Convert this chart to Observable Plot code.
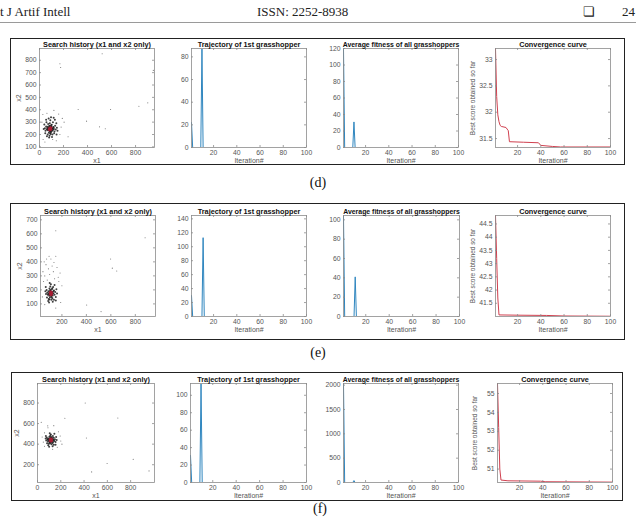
<!DOCTYPE html>
<html><head><meta charset="utf-8">
<script src="https://cdn.jsdelivr.net/npm/d3@7"></script>
<script src="https://cdn.jsdelivr.net/npm/@observablehq/plot@0.6"></script>
<style>
html,body{margin:0;padding:0;background:#fff;}
#page{position:relative;width:636px;height:517px;overflow:hidden;background:#fff;font-family:"Liberation Serif","Times New Roman",serif;}
.hdr{position:absolute;font-size:13px;line-height:13px;color:#222;top:5px;white-space:nowrap;}
.rule{position:absolute;left:0;width:636px;top:22px;height:0;border-top:1.5px solid #9a9a9a;}
.box{position:absolute;border:1.5px solid #222;box-sizing:border-box;}
.cap{position:absolute;font-size:14px;line-height:14px;color:#111;transform:translateX(-50%);}
</style></head><body>
<div id="page">
  <div class="hdr" style="left:0px">t J Artif Intell</div>
  <div class="hdr" style="left:257px">ISSN: 2252-8938</div>
  <div class="hdr" style="left:583px">&#x274F;</div>
  <div class="hdr" style="left:622px">24</div>
  <div class="rule"></div>
  <div class="box" style="left:10px;top:38px;width:615px;height:127px"></div>
  <div class="box" style="left:10px;top:203px;width:615px;height:137px"></div>
  <div class="box" style="left:11px;top:372px;width:612px;height:129px"></div>
  <div class="cap" style="left:318px;top:176px">(d)</div>
  <div class="cap" style="left:318px;top:346px">(e)</div>
  <div class="cap" style="left:320px;top:502px">(f)</div>
</div>
<script>
// ---------- shared ----------
const iterTicks = [20, 40, 60, 80, 100];
const titles = ["Search history (x1 and x2 only)", "Trajectory of 1st grasshopper", "Average fitness of all grasshoppers", "Convergence curve"];
const iterLabel = "Iteration#";
const convLabel = "Best score obtained so far";

// ---------- row (d) ----------
const histDCluster = [[90,245],[85,250],[95,240],[80,238],[100,255],[88,230],[92,262],[75,250],[105,245],[70,235],[110,232],[82,270],[98,222],[65,255],[115,260],[78,215],[102,278],[60,240],[120,245],[86,290],[94,205],[55,265],[125,225],[72,285],[108,200],[50,230],[130,270],[68,200],[112,300],[45,250],[135,240],[90,315],[84,190],[58,300],[122,210],[40,280],[140,290],[76,330],[104,180],[62,185],[128,320],[48,210],[145,255],[96,340],[80,175],[150,230],[55,320],[118,335],[35,245],[142,200],
  [88,252],[96,236],[83,244],[99,262],[91,228],[79,258],[107,250],[74,242],[103,232],[87,268],[93,218],[70,262],[112,242],[84,226],[97,274],[66,244],[118,256],[89,208]];
const histDSparse = [[170,772],[176,742],[322,402],[392,308],[522,852],[500,262],[548,247],[592,402],[828,428],[902,456],[948,718],[160,365],[28,362],[205,300],[238,182],[62,372],[120,395],[140,150],[30,160],[180,260],[20,300],[170,200],[110,160],[190,330],[45,140]];
const histDBest = [[90,244],[86,240],[95,249],[91,252],[84,246]];
const trajD = [[1,22],[2,0],[9,0],[10,87],[11,0],[100,0]];
const avgD = [[1,120],[2,0],[9,0],[10,31],[11,0],[100,0]];
const convD = [[1,33.21],[2,32.3],[3,31.95],[4,31.82],[5,31.75],[6,31.73],[10,31.71],[11,31.68],[12,31.65],[13,31.44],[25,31.43],[38,31.42],[40,31.37],[50,31.35],[57,31.34],[100,31.34]];

// ---------- row (e) ----------
const histECluster = [[110,175],[105,180],[115,170],[100,165],[120,185],[95,178],[125,160],[108,195],[112,155],[90,190],[130,175],[102,145],[118,205],[85,165],[135,195],[98,210],[122,140],[80,180],[140,165],[105,225],[115,130],[75,200],[145,185],[92,135],[128,220],[70,170],[150,150],[110,240],[88,120],[135,130],[65,190],[155,205],[100,250],[125,115],[78,145],[160,175],[95,110],[140,235],[68,220],[150,125],
  [107,172],[113,183],[101,188],[119,163],[96,158],[124,178],[104,200],[116,148],[91,170],[131,190],[99,132],[121,212]];
const histESparse = [[70,380],[110,420],[150,440],[90,350],[130,330],[60,300],[170,290],[80,270],[140,280],[100,310],[55,400],[160,360],[120,370],[45,330],[185,320],[95,440],[135,395],[75,420],[175,260],[50,260],[200,230],[40,150],[190,110],[60,95],[150,70],[150,622],[598,420],[612,355],[648,335],[402,92],[880,572],[520,45]];
const histEBest = [[110,175],[106,170],[114,180],[108,182],[113,168]];
const trajE = [[1,30],[2,0],[10,0],[11,113],[12,0],[100,0]];
const avgE = [[1,104],[2,0],[10,0],[11,41],[12,0],[100,0]];
const convE = [[1,44.82],[2,43.2],[3,41.7],[4,41.06],[20,41.05],[45,41.04],[60,41.02],[100,41.01]];

// ---------- row (f) ----------
const histFCluster = [[115,440],[110,445],[120,435],[105,430],[125,450],[100,448],[130,428],[112,460],[118,420],[95,438],[135,445],[108,415],[122,468],[90,425],[140,462],[102,472],[128,410],[85,450],[145,430],[110,485],[120,400],[80,465],[150,448],[98,405],[132,480],[75,435],[155,420],[115,495],[92,390],[140,395],[70,455],[160,470],[105,505],[130,380],[82,410],[165,440],[100,375],[145,500],[72,480],[155,395],
  [112,438],[118,447],[107,452],[123,432],[103,422],[127,458],[97,455],[133,418],[114,470],[109,408],[138,438],[88,442]];
const histFSparse = [[60,510],[180,520],[200,430],[50,420],[170,370],[90,560],[140,580],[40,470],[195,480],[130,350],[60,380],[210,400],[410,800],[235,652],[690,655],[420,460],[598,212],[822,252],[465,130],[958,140],[32,612],[88,578]];
const histFBest = [[115,440],[111,436],[119,444],[113,446],[117,434]];
const trajF = [[1,31],[2,0],[9,0],[10,113],[11,0],[100,0]];
const avgF = [[1,2034],[2,0],[9,0],[10,40],[11,0],[100,0]];
const convF = [[1,55.53],[2,53.2],[3,51.0],[4,50.42],[10,50.38],[38,50.36],[42,50.33],[100,50.31]];

// ---------- drawing ----------
const FONT = "'Liberation Sans', Arial, Helvetica, sans-serif";
const page = document.getElementById("page");
const AX = "#8c8c8c";
const BLUE = "#2f86bf";
const RED = "#d0404f";

function panel({left, top, w, h, x, y, marks, title, titleSize = 7.3, xLabel, yLabel, yLabelOffset = 24, xLabelOffset = 15}) {
  const mL = 50, mR = 10, mT = 14, mB = 22, tl = 2;
  const svg = Plot.plot({
    width: w + mL + mR, height: h + mT + mB,
    marginLeft: mL, marginRight: mR, marginTop: mT, marginBottom: mB,
    x: {domain: x.domain},
    y: {domain: y.domain},
    style: {background: "transparent", overflow: "visible", fontFamily: FONT, fontSize: "6.8px", color: "#555"},
    marks: [
      ...marks,
      Plot.frame({stroke: AX, strokeWidth: 0.8}),
      Plot.tickX(x.ticks, {x: d => d, insetTop: h - tl, stroke: AX, strokeWidth: 0.8}),
      Plot.tickX(x.ticks, {x: d => d, insetBottom: h - tl, stroke: AX, strokeWidth: 0.8}),
      Plot.tickY(y.ticks, {y: d => d, insetLeft: w - tl, stroke: AX, strokeWidth: 0.8}),
      Plot.tickY(y.ticks, {y: d => d, insetRight: w - tl, stroke: AX, strokeWidth: 0.8}),
      Plot.axisX(x.ticks, {tickSize: 0, tickPadding: 3, label: null, tickFormat: d => String(d)}),
      Plot.axisY(y.ticks, {tickSize: 0, tickPadding: 3, label: null, tickFormat: d => String(d)}),
      Plot.text([title], {text: d => d, frameAnchor: "top", dy: -1.8, lineAnchor: "bottom", textAnchor: "middle", fontWeight: "bold", fontSize: titleSize, fill: "#111"}),
      xLabel ? Plot.text([xLabel], {text: d => d, frameAnchor: "bottom", dy: xLabelOffset, lineAnchor: "bottom", textAnchor: "middle", fontSize: 7, fill: "#555"}) : null,
      yLabel ? Plot.text([yLabel], {text: d => d, frameAnchor: "left", dx: -yLabelOffset, rotate: -90, lineAnchor: "top", textAnchor: "middle", fontSize: yLabel.length > 5 ? 6.4 : 7, fill: "#555"}) : null
    ]
  });
  svg.style.position = "absolute";
  svg.style.left = (left - mL) + "px";
  svg.style.top = (top - mT) + "px";
  page.appendChild(svg);
}

function scatterMarks(cluster, sparse, best) {
  return [
    Plot.dot(sparse, {x: d => d[0], y: d => d[1], r: 0.55, fill: "#777", stroke: null}),
    Plot.dot(cluster, {x: d => d[0], y: d => d[1], r: 1.0, fill: "#1e1e1e", fillOpacity: 0.85, stroke: null}),
    Plot.dot(best, {x: d => d[0], y: d => d[1], r: 1.8, symbol: "asterisk", stroke: "#a81c32", strokeWidth: 1})
  ];
}
function lineMarks(data, color) {
  return [Plot.line(data, {x: d => d[0], y: d => d[1], stroke: color, strokeWidth: 1, clip: true})];
}

const rows = [
  {top: 48, h: 99, lefts: [[39,115],[191,115],[343,115],[495,115]],
   hist: {x: {domain: [0, 958], ticks: [0,200,400,600,800]}, y: {domain: [95, 895], ticks: [100,200,300,400,500,600,700,800]}, c: histDCluster, s: histDSparse, b: histDBest},
   traj: {data: trajD, y: {domain: [0, 87.4], ticks: [0,20,40,60,80]}},
   avg: {data: avgD, y: {domain: [0, 120], ticks: [0,20,40,60,80,100,120]}},
   conv: {data: convD, y: {domain: [31.33, 33.21], ticks: [31.5,32,32.5,33]}}},
  {top: 215, h: 101, lefts: [[40,115],[191,115],[343,116],[495,115]],
   hist: {x: {domain: [25, 965], ticks: [200,400,600,800]}, y: {domain: [10, 731], ticks: [100,200,300,400,500,600,700]}, c: histECluster, s: histESparse, b: histEBest},
   traj: {data: trajE, y: {domain: [0, 144.8], ticks: [0,20,40,60,80,100,120,140]}},
   avg: {data: avgE, y: {domain: [0, 104.5], ticks: [0,20,40,60,80,100]}},
   conv: {data: convE, y: {domain: [41.0, 44.82], ticks: [41.5,42,42.5,43,43.5,44,44.5]}}},
  {top: 383, h: 99, lefts: [[37,117],[190,116],[343,115],[497,115]],
   hist: {x: {domain: [0, 1005], ticks: [0,200,400,600,800]}, y: {domain: [27, 990], ticks: [200,400,600,800]}, c: histFCluster, s: histFSparse, b: histFBest},
   traj: {data: trajF, y: {domain: [0, 113.5], ticks: [0,20,40,60,80,100]}},
   avg: {data: avgF, y: {domain: [0, 2034], ticks: [0,500,1000,1500,2000]}},
   conv: {data: convF, y: {domain: [50.29, 55.53], ticks: [51,52,53,54,55]}}}
];

for (const r of rows) {
  const [p1, p2, p3, p4] = r.lefts;
  panel({left: p1[0], top: r.top, w: p1[1], h: r.h, x: r.hist.x, y: r.hist.y,
    marks: scatterMarks(r.hist.c, r.hist.s, r.hist.b), title: titles[0], xLabel: "x1", yLabel: "x2", yLabelOffset: 23});
  panel({left: p2[0], top: r.top, w: p2[1], h: r.h, x: {domain: [1, 100], ticks: iterTicks}, y: r.traj.y,
    marks: lineMarks(r.traj.data, BLUE), title: titles[1], xLabel: iterLabel});
  panel({left: p3[0], top: r.top, w: p3[1], h: r.h, x: {domain: [1, 100], ticks: iterTicks}, y: r.avg.y,
    marks: lineMarks(r.avg.data, BLUE), title: titles[2], titleSize: 6.9, xLabel: iterLabel});
  panel({left: p4[0], top: r.top, w: p4[1], h: r.h, x: {domain: [1, 100], ticks: iterTicks}, y: r.conv.y,
    marks: lineMarks(r.conv.data, RED), title: titles[3], xLabel: iterLabel, yLabel: convLabel, yLabelOffset: 25});
}
</script>
</body></html>
